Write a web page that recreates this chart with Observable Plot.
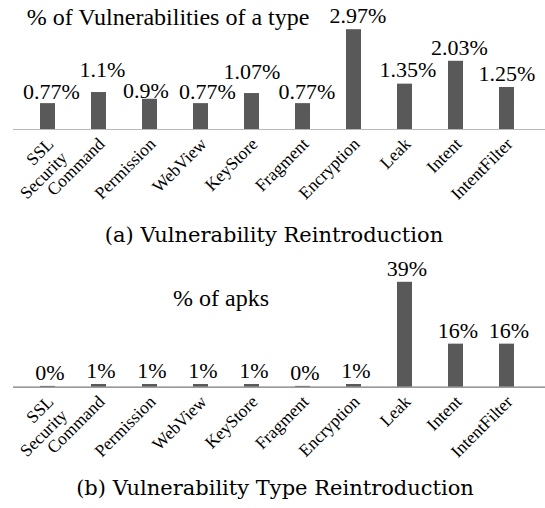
<!DOCTYPE html>
<html>
<head>
<meta charset="utf-8">
<script src="https://cdn.jsdelivr.net/npm/d3@7"></script>
<script src="https://cdn.jsdelivr.net/npm/@observablehq/plot@0.6"></script>
<style>
  html, body { margin: 0; padding: 0; background: #fff; }
  #wrap { position: relative; width: 545px; height: 508px; overflow: hidden; }
  .chart { position: absolute; left: 0; }
  .title { position: absolute; font-family: "Liberation Serif", "Times New Roman", serif; line-height: 1; white-space: nowrap; color: #000; transform: translateX(-50%); }
  .caption { position: absolute; font-family: "DejaVu Serif", serif; line-height: 1; white-space: nowrap; color: #000; transform: translateX(-50%); }
</style>
</head>
<body>
<div id="wrap"></div>
<script>
// ---- data ----
const categories = ["SSL Security", "Command", "Permission", "WebView", "KeyStore", "Fragment", "Encryption", "Leak", "Intent", "IntentFilter"];
const tickLabels = ["SSL\nSecurity", "Command", "Permission", "WebView", "KeyStore", "Fragment", "Encryption", "Leak", "Intent", "IntentFilter"];
const vulnPct = [0.77, 1.1, 0.9, 0.77, 1.07, 0.77, 2.97, 1.35, 2.03, 1.25];
const vulnLabels = ["0.77%", "1.1%", "0.9%", "0.77%", "1.07%", "0.77%", "2.97%", "1.35%", "2.03%", "1.25%"];
const apkPct = [0.3, 1, 1, 1, 1, 0.3, 1, 39, 16, 16];
const apkLabels = ["0%", "1%", "1%", "1%", "1%", "0%", "1%", "39%", "16%", "16%"];

const titleA = "% of Vulnerabilities of a type";
const titleB = "% of apks";
const captionA = "(a) Vulnerability Reintroduction";
const captionB = "(b) Vulnerability Type Reintroduction";

// style: [dx, dy] nudge (px) of each value label relative to its bar top, chart (a)
const labelNudgeA = {
  "SSL Security": [3.5, -4.5], "Command": [3.5, -16], "Permission": [-4, -1], "WebView": [6.5, -4.5],
  "KeyStore": [0, -15], "Fragment": [4, -4.5], "Encryption": [4, -7], "Leak": [3, -7],
  "Intent": [3.5, -6], "IntentFilter": [0, -7]
};

const serif = "'Liberation Serif', 'Times New Roman', serif";
const wrap = document.getElementById("wrap");

function makeChart(values, labels, opts) {
  const data = categories.map((c, i) => ({name: c, value: values[i], label: labels[i], tick: tickLabels[i]}));
  const nudge = opts.nudge || {};
  const groups = d3.group(data, d => (nudge[d.name] || [opts.labelDx, opts.labelGap]).join(","));
  const labelMarks = Array.from(groups, ([key, rows]) => {
    const [dx, dy] = key.split(",").map(Number);
    return Plot.text(rows, {x: "name", y: "value", text: "label", lineAnchor: "bottom", dx, dy, fontSize: 22, fontFamily: serif, fill: "#000"});
  });
  return Plot.plot({
    width: 545,
    height: opts.height,
    marginLeft: 13,
    marginRight: 0,
    marginTop: opts.marginTop,
    marginBottom: opts.marginBottom,
    style: {fontFamily: serif, fontSize: "17.5px", color: "#000", background: "transparent"},
    x: {
      domain: categories,
      range: [18, 536],
      paddingInner: 0.71,
      paddingOuter: 0.355,
      axis: null
    },
    y: {domain: opts.yDomain, axis: null},
    marks: [
      Plot.barY(data, {x: "name", y: "value", fill: "#595959"}),
      Plot.ruleY([0], {stroke: opts.axisColor, strokeWidth: 1.2}),
      ...labelMarks,
      Plot.text(data, {x: "name", frameAnchor: "bottom", text: "tick", rotate: -45, textAnchor: "end", lineAnchor: "top", dx: -3, dy: 6, lineHeight: 1.1, fontSize: 17.5, fontFamily: serif, fill: "#000"})
    ]
  });
}

// chart (a)
const chartA = makeChart(vulnPct, vulnLabels, {height: 222, marginTop: 28.2, marginBottom: 93, yDomain: [0, 3], axisColor: "#b8b8b8", labelGap: -6, labelDx: 3, nudge: labelNudgeA});
chartA.classList.add("chart");
chartA.style.top = "0px";
wrap.appendChild(chartA);

// chart (b)
const chartB = makeChart(apkPct, apkLabels, {height: 225, marginTop: 29.1, marginBottom: 88.3, yDomain: [0, 40], axisColor: "#7a7a7a", labelGap: -6.5, labelDx: 2});
chartB.classList.add("chart");
chartB.style.top = "250px";
wrap.appendChild(chartB);

function addText(cls, text, x, baseline, size, ascentRatio) {
  const d = document.createElement("div");
  d.className = cls;
  d.textContent = text;
  d.style.fontSize = size + "px";
  d.style.left = x + "px";
  d.style.top = (baseline - size * ascentRatio) + "px";
  wrap.appendChild(d);
}
addText("title", titleA, 168, 25, 24, 0.8375);
addText("title", titleB, 221, 306, 24, 0.8375);
addText("caption", captionA, 274, 243, 21, 0.846);
addText("caption", captionB, 275, 496, 21, 0.846);
</script>
</body>
</html>
